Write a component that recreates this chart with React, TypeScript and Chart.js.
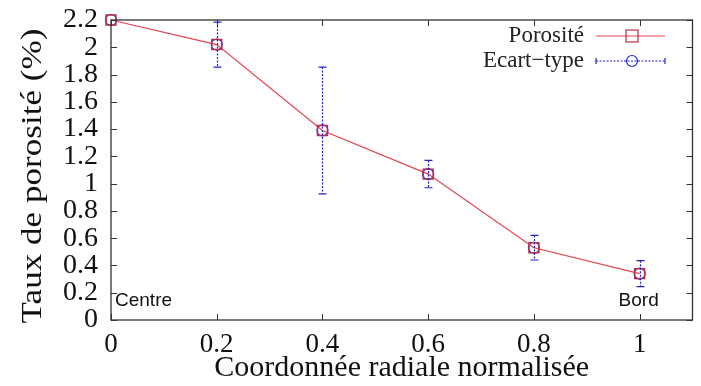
import React, { useEffect, useRef } from "react";
import { Chart, registerables } from "chart.js";

Chart.register(...registerables);

const xValues = [0, 0.2, 0.4, 0.6, 0.8, 1];
const porosity = [2.2, 2.02, 1.39, 1.07, 0.53, 0.34];
const stdDev = [0, 0.165, 0.465, 0.1, 0.09, 0.095];
const xTicks = [0, 0.2, 0.4, 0.6, 0.8, 1];
const yTicks = [0, 0.2, 0.4, 0.6, 0.8, 1, 1.2, 1.4, 1.6, 1.8, 2, 2.2];
const seriesNames = ["Porosité", "Ecart\u2212type"];
const xTitle = "Coordonnée radiale normalisée";
const yTitle = "Taux de porosité (%)";
const leftNote = "Centre";
const rightNote = "Bord";

const RED = "#e2464e";
const SQUARE = "#b83050";
const BLUE = "#2323c8";
const AXIS = "#333333";
const SERIF = "'Liberation Serif', 'DejaVu Serif', serif";
const SANS = "'Liberation Sans', Arial, sans-serif";

const fmt = (v: number) => String(Number(v.toFixed(1)));

const customPlugin = {
  id: "gnuplotStyle",
  afterDatasetsDraw(chart: any) {
    const ctx = chart.ctx;
    const xs = chart.scales.x;
    const ys = chart.scales.y;
    ctx.save();
    ctx.strokeStyle = BLUE;
    ctx.lineWidth = 1.2;
    ctx.setLineDash([2, 1.5]);
    xValues.forEach((xv, i) => {
      if (!stdDev[i]) return;
      const px = Math.round(xs.getPixelForValue(xv)) + 0.5;
      const top = ys.getPixelForValue(porosity[i] + stdDev[i]);
      const bot = ys.getPixelForValue(porosity[i] - stdDev[i]);
      ctx.beginPath();
      ctx.moveTo(px, top);
      ctx.lineTo(px, bot);
      ctx.stroke();
    });
    ctx.setLineDash([]);
    xValues.forEach((xv, i) => {
      if (!stdDev[i]) return;
      const px = Math.round(xs.getPixelForValue(xv)) + 0.5;
      const top = ys.getPixelForValue(porosity[i] + stdDev[i]);
      const bot = ys.getPixelForValue(porosity[i] - stdDev[i]);
      ctx.beginPath();
      ctx.moveTo(px - 4, top);
      ctx.lineTo(px + 4, top);
      ctx.moveTo(px - 4, bot);
      ctx.lineTo(px + 4, bot);
      ctx.stroke();
    });
    ctx.restore();
  },
  afterDraw(chart: any) {
    const ctx = chart.ctx;
    const xs = chart.scales.x;
    const ys = chart.scales.y;
    const a = chart.chartArea;
    ctx.save();
    ctx.strokeStyle = AXIS;
    ctx.lineWidth = 1.3;
    ctx.strokeRect(a.left, a.top, a.right - a.left, a.bottom - a.top);
    ctx.lineWidth = 1;
    const tl = 6;
    ctx.beginPath();
    xTicks.forEach((v) => {
      const px = Math.round(xs.getPixelForValue(v)) + 0.5;
      ctx.moveTo(px, a.bottom);
      ctx.lineTo(px, a.bottom - tl);
      ctx.moveTo(px, a.top);
      ctx.lineTo(px, a.top + tl);
    });
    yTicks.forEach((v) => {
      const py = Math.round(ys.getPixelForValue(v)) + 0.5;
      ctx.moveTo(a.left, py);
      ctx.lineTo(a.left + tl, py);
      ctx.moveTo(a.right, py);
      ctx.lineTo(a.right - tl, py);
    });
    ctx.stroke();

    // annotations
    ctx.fillStyle = "#111";
    ctx.font = `19px ${SANS}`;
    ctx.textBaseline = "alphabetic";
    ctx.textAlign = "left";
    ctx.fillText(leftNote, xs.getPixelForValue(0) + 4, 306);
    ctx.textAlign = "center";
    ctx.fillText(rightNote, xs.getPixelForValue(1) - 1, 306);

    // axis titles
    ctx.fillStyle = "#111";
    ctx.font = `30px ${SERIF}`;
    ctx.textAlign = "center";
    ctx.textBaseline = "alphabetic";
    ctx.fillText(xTitle, (a.left + a.right) / 2, 376);
    ctx.save();
    ctx.translate(41, 176);
    ctx.rotate(-Math.PI / 2);
    ctx.scale(1.17, 0.95);
    ctx.fillText(yTitle, 0, 0);
    ctx.restore();

    // legend
    ctx.font = `23px ${SERIF}`;
    ctx.textAlign = "right";
    ctx.textBaseline = "middle";
    ctx.fillStyle = "#222";
    const textRight = 584;
    const lx1 = 596;
    const lx2 = 665;
    const lmid = 632;
    const ly1 = 36;
    const ly2 = 61;
    ctx.fillText(seriesNames[0], textRight, ly1);
    ctx.fillText(seriesNames[1], textRight, ly2);
    ctx.strokeStyle = RED;
    ctx.lineWidth = 1.2;
    ctx.beginPath();
    ctx.moveTo(lx1, ly1);
    ctx.lineTo(lx2, ly1);
    ctx.stroke();
    ctx.strokeStyle = SQUARE;
    ctx.strokeRect(lmid - 6, ly1 - 6, 12, 12);
    ctx.strokeStyle = BLUE;
    ctx.setLineDash([2, 1.5]);
    ctx.beginPath();
    ctx.moveTo(lx1, ly2);
    ctx.lineTo(lx2, ly2);
    ctx.stroke();
    ctx.setLineDash([]);
    ctx.beginPath();
    ctx.moveTo(lx2, ly2 - 3);
    ctx.lineTo(lx2, ly2 + 3);
    ctx.moveTo(lx1, ly2 - 3);
    ctx.lineTo(lx1, ly2 + 3);
    ctx.stroke();
    ctx.beginPath();
    ctx.arc(lmid, ly2, 5.5, 0, Math.PI * 2);
    ctx.stroke();
    ctx.restore();
  },
};

export default function App() {
  const ref = useRef<HTMLCanvasElement>(null);
  useEffect(() => {
    if (!ref.current) return;
    const chart = new Chart(ref.current, {
      type: "line",
      data: {
        datasets: [
          {
            label: seriesNames[0],
            data: xValues.map((x, i) => ({ x, y: porosity[i] })),
            borderColor: RED,
            borderWidth: 1.2,
            backgroundColor: "transparent",
            pointStyle: "rect",
            pointRadius: 7,
            pointBorderColor: SQUARE,
            pointBorderWidth: 1.5,
            pointBackgroundColor: "transparent",
            tension: 0,
            clip: false as any,
          },
          {
            label: seriesNames[1],
            data: xValues.map((x, i) => ({ x, y: porosity[i] })),
            showLine: false,
            borderColor: BLUE,
            pointStyle: "circle",
            pointRadius: 5.5,
            pointBorderColor: BLUE,
            pointBorderWidth: 1.2,
            pointBackgroundColor: "transparent",
            clip: false as any,
          },
        ],
      },
      options: {
        animation: false,
        responsive: false,
        maintainAspectRatio: false,
        layout: { padding: { top: 20, right: 8, left: 0, bottom: 0 } },
        plugins: { legend: { display: false }, tooltip: { enabled: false } },
        scales: {
          x: {
            type: "linear",
            min: 0,
            max: 1.1,
            afterBuildTicks: (s: any) => {
              s.ticks = xTicks.map((v) => ({ value: v }));
            },
            afterFit: (s: any) => {
              s.height = 66;
              s.paddingLeft = 0;
              s.paddingRight = 0;
            },
            grid: { display: false, drawTicks: false },
            border: { display: false },
            ticks: {
              padding: 11,
              maxRotation: 0,
              autoSkip: false,
              color: "#111",
              font: { family: SERIF, size: 27, lineHeight: 1 },
              callback: (v: any) => fmt(Number(v)),
            },
            title: { display: false },
          },
          y: {
            type: "linear",
            min: 0,
            max: 2.2,
            afterBuildTicks: (s: any) => {
              s.ticks = yTicks.map((v) => ({ value: v }));
            },
            afterFit: (s: any) => {
              s.width = 111;
              s.paddingTop = 0;
              s.paddingBottom = 0;
            },
            grid: { display: false, drawTicks: false },
            border: { display: false },
            ticks: {
              padding: 13,
              autoSkip: false,
              color: "#111",
              font: { family: SERIF, size: 28, lineHeight: 1 },
              callback: (v: any) => fmt(Number(v)),
            },
            title: { display: false },
          },
        },
      },
      plugins: [customPlugin],
    } as any);
    return () => chart.destroy();
  }, []);
  return (
    <div style={{ position: "fixed", left: 0, top: 0, width: 701, height: 386, background: "#fff" }}>
      <canvas ref={ref} width={701} height={386} style={{ width: 701, height: 386 }} />
    </div>
  );
}
